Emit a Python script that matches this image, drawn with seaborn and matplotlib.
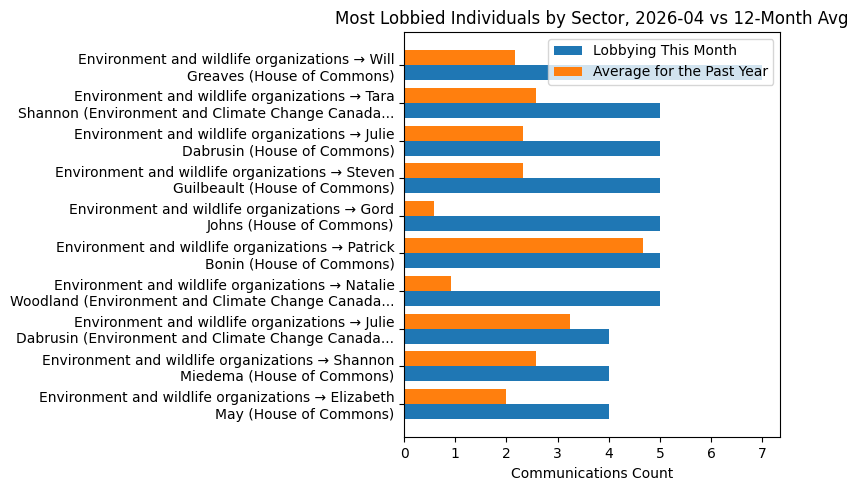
import pandas as pd
import seaborn as sns
import matplotlib.pyplot as plt

labels = [
    "Environment and wildlife organizations \u2192 Will\nGreaves (House of Commons)",
    "Environment and wildlife organizations \u2192 Tara\nShannon (Environment and Climate Change Canada...",
    "Environment and wildlife organizations \u2192 Julie\nDabrusin (House of Commons)",
    "Environment and wildlife organizations \u2192 Steven\nGuilbeault (House of Commons)",
    "Environment and wildlife organizations \u2192 Gord\nJohns (House of Commons)",
    "Environment and wildlife organizations \u2192 Patrick\nBonin (House of Commons)",
    "Environment and wildlife organizations \u2192 Natalie\nWoodland (Environment and Climate Change Canada...",
    "Environment and wildlife organizations \u2192 Julie\nDabrusin (Environment and Climate Change Canada...",
    "Environment and wildlife organizations \u2192 Shannon\nMiedema (House of Commons)",
    "Environment and wildlife organizations \u2192 Elizabeth\nMay (House of Commons)",
]
this_month = [7, 5, 5, 5, 5, 5, 5, 4, 4, 4]
past_year_avg = [2.17, 2.58, 2.33, 2.33, 0.58, 4.67, 0.92, 3.25, 2.58, 2.0]

s_month = "Lobbying This Month"
s_avg = "Average for the Past Year"

df = pd.DataFrame({
    "label": labels * 2,
    "value": this_month + past_year_avg,
    "series": [s_month] * len(labels) + [s_avg] * len(labels),
})

fig, ax = plt.subplots(figsize=(8.58, 4.90), dpi=100)
sns.barplot(data=df, y="label", x="value", hue="series",
            hue_order=[s_avg, s_month], order=labels,
            palette={s_month: "#1f77b4", s_avg: "#ff7f0e"},
            width=0.8, saturation=1, orient="h", ax=ax)

n = len(labels)
ax.set_ylim(n - 1 + 0.4 + 0.49, -0.4 - 0.49)
ax.set_xlim(0, 7.35)
ax.set_xlabel("Communications Count")
ax.set_ylabel("")
ax.set_title("Most Lobbied Individuals by Sector, 2026-04 vs 12-Month Avg")

handles, lbls = ax.get_legend_handles_labels()
order = [lbls.index(s_month), lbls.index(s_avg)]
ax.legend([handles[i] for i in order], [lbls[i] for i in order], loc="upper right")

fig.subplots_adjust(left=0.471, right=0.9095, top=0.935, bottom=0.1075)
plt.savefig("out.png")
